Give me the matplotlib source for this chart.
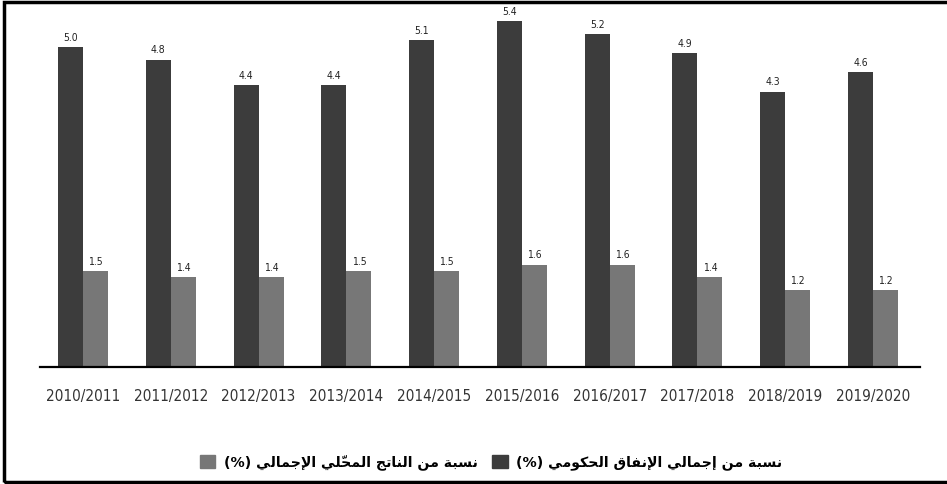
import matplotlib
matplotlib.use('Agg')
import matplotlib.pyplot as plt
from matplotlib.patches import Patch, Rectangle
import numpy as np

years = ["2010/2011", "2011/2012", "2012/2013", "2013/2014", "2014/2015",
         "2015/2016", "2016/2017", "2017/2018", "2018/2019", "2019/2020"]
spending_share = [5.0, 4.8, 4.4, 4.4, 5.1, 5.4, 5.2, 4.9, 4.3, 4.6]
gdp_share = [1.5, 1.4, 1.4, 1.5, 1.5, 1.6, 1.6, 1.4, 1.2, 1.2]

label_spending = "نسبة من إجمالي الإنفاق الحكومي"
label_gdp = "نسبة من الناتج المحلّي الإجمالي"

dark = "#3c3c3c"
light = "#777777"

# presentation forms: isolated, final, initial, medial (None = not joining forward)
forms = {
    'ا': ('\uFE8D', '\uFE8E', None, None),
    'إ': ('\uFE87', '\uFE88', None, None),
    'ة': ('\uFE93', '\uFE94', None, None),
    'و': ('\uFEED', '\uFEEE', None, None),
    'ب': ('\uFE8F', '\uFE90', '\uFE91', '\uFE92'),
    'ت': ('\uFE95', '\uFE96', '\uFE97', '\uFE98'),
    'ج': ('\uFE9D', '\uFE9E', '\uFE9F', '\uFEA0'),
    'ح': ('\uFEA1', '\uFEA2', '\uFEA3', '\uFEA4'),
    'س': ('\uFEB1', '\uFEB2', '\uFEB3', '\uFEB4'),
    'ف': ('\uFED1', '\uFED2', '\uFED3', '\uFED4'),
    'ق': ('\uFED5', '\uFED6', '\uFED7', '\uFED8'),
    'ك': ('\uFED9', '\uFEDA', '\uFEDB', '\uFEDC'),
    'ل': ('\uFEDD', '\uFEDE', '\uFEDF', '\uFEE0'),
    'م': ('\uFEE1', '\uFEE2', '\uFEE3', '\uFEE4'),
    'ن': ('\uFEE5', '\uFEE6', '\uFEE7', '\uFEE8'),
    'ي': ('\uFEF1', '\uFEF2', '\uFEF3', '\uFEF4'),
}
lam_alef = {'ا': ('\uFEFB', '\uFEFC'), 'إ': ('\uFEF9', '\uFEFA')}
marks = {'\u0651'}


# small reshaper: joins letters and puts them in visual (left to right) order
def shape(text):
    clusters = []
    for ch in text:
        if ch in marks and clusters:
            clusters[-1][1] += ch
        else:
            clusters.append([ch, ''])
    # merge lam + alef
    merged = []
    i = 0
    while i < len(clusters):
        c = clusters[i]
        if c[0] == 'ل' and i + 1 < len(clusters) and clusters[i + 1][0] in lam_alef:
            merged.append(['LA' + clusters[i + 1][0], c[1] + clusters[i + 1][1]])
            i += 2
        else:
            merged.append(c)
            i += 1

    def joins_next(base):
        if base.startswith('LA'):
            return False
        return base in forms and forms[base][2] is not None

    def is_letter(base):
        return base.startswith('LA') or base in forms

    out = []
    for i, (base, mk) in enumerate(merged):
        prev_join = i > 0 and joins_next(merged[i - 1][0]) and is_letter(base)
        if base.startswith('LA'):
            g = lam_alef[base[2]][1 if prev_join else 0]
        elif base in forms:
            next_join = joins_next(base) and i + 1 < len(merged) and is_letter(merged[i + 1][0])
            f = forms[base]
            if prev_join and next_join:
                g = f[3]
            elif prev_join:
                g = f[1]
            elif next_join:
                g = f[2]
            else:
                g = f[0]
        else:
            g = base
        out.append(g + mk)
    return ''.join(reversed(out))


plt.rcParams['font.family'] = ['DejaVu Sans']

fig = plt.figure(figsize=(9.47, 4.84), dpi=100)
ax = fig.add_axes([40 / 947, 117 / 484, 880 / 947, 360 / 484])

x = np.arange(len(years))
w = 0.285
bars_dark = ax.bar(x - w / 2, spending_share, w, color=dark)
bars_light = ax.bar(x + w / 2, gdp_share, w, color=light)

for bars, vals in [(bars_dark, spending_share), (bars_light, gdp_share)]:
    for b, v in zip(bars, vals):
        ax.annotate("%.1f" % v, (b.get_x() + b.get_width() / 2, v),
                    xytext=(0, 3), textcoords='offset points',
                    ha='center', va='bottom', fontsize=7.5, color='#222222',
                    fontstretch='condensed')

ax.set_xlim(-0.49, 9.535)
ax.set_ylim(0, 5.62)
ax.set_xticks(x)
ax.set_xticklabels(years, fontsize=11, color='#333333', fontstretch='condensed')
ax.tick_params(axis='x', length=0, pad=16)
ax.set_yticks([])
for s in ['top', 'right', 'left']:
    ax.spines[s].set_visible(False)
ax.spines['bottom'].set_linewidth(1.6)
ax.spines['bottom'].set_color('black')

handles = [Patch(color=light), Patch(color=dark)]
labels = ["(%) " + shape(label_gdp), "(%) " + shape(label_spending)]
fig.legend(handles, labels, loc='center', bbox_to_anchor=(491 / 947, 1 - 462 / 484),
           ncol=2, frameon=False, handlelength=1.1, handleheight=1.1,
           columnspacing=1.0, handletextpad=0.6,
           prop={'family': 'DejaVu Sans', 'weight': 'bold', 'size': 10.2})

fig.add_artist(Rectangle((4 / 947, 2.5 / 484), 2, 479.5 / 484, transform=fig.transFigure,
                         fill=False, edgecolor='black', linewidth=2.5))

fig.savefig("out.png", dpi=100)
